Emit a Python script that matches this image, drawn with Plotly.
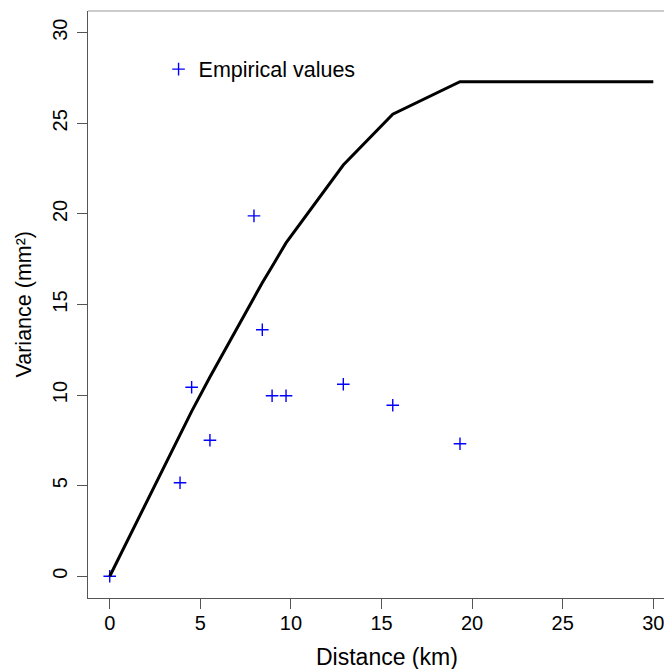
import plotly.graph_objects as go

# Empirical variogram values
emp_dist = [0, 3.88, 4.52, 5.53, 7.96, 8.42, 8.96, 9.73, 12.89, 15.62, 19.33]
emp_var = [0, 5.16, 10.43, 7.51, 19.89, 13.61, 9.96, 9.96, 10.6, 9.44, 7.31]

# Fitted model line
model_dist = [0, 3.88, 4.52, 5.53, 7.96, 8.42, 8.96, 9.73, 12.89, 15.62, 19.33, 30]
model_var = [0, 7.8, 9.1, 11.0, 15.4, 16.2, 17.1, 18.4, 22.7, 25.5, 27.3, 27.3]

tick_vals = [0, 5, 10, 15, 20, 25, 30]
tick_text = ["0", "5", "10", "15", "20", "25", "30"]

FONT = "Liberation Sans, Arial, Helvetica, sans-serif"

fig = go.Figure()
fig.add_trace(go.Scatter(
    x=emp_dist, y=emp_var, mode="markers", name="Empirical values",
    marker=dict(symbol="cross-thin", size=9, color="blue",
                line=dict(width=1.4, color="blue")),
    showlegend=True))
fig.add_trace(go.Scatter(
    x=model_dist, y=model_var, mode="lines",
    line=dict(color="black", width=3), showlegend=False))

axis_common = dict(
    showgrid=False, zeroline=False, showline=True, linecolor="#555555",
    linewidth=1.3, ticks="outside", ticklen=10, tickwidth=1.2,
    tickcolor="#555555", tickvals=tick_vals, ticktext=tick_text,
    ticklabeloverflow="allow",
    tickfont=dict(family=FONT, size=20, color="black"))

fig.update_xaxes(range=[-1.2, 30.59], **axis_common, ticklabelstandoff=-3)
fig.update_yaxes(range=[-1.2, 31.2], **axis_common, tickangle=-90,
                 ticklabelstandoff=2)

fig.update_layout(
    width=664, height=669,
    margin=dict(l=88, r=0, t=11, b=71),
    plot_bgcolor="white", paper_bgcolor="white",
    legend=dict(x=0.1225, y=0.901, xanchor="left", yanchor="middle",
                font=dict(family=FONT, size=21.5, color="black"),
                bgcolor="rgba(0,0,0,0)", borderwidth=0, itemwidth=30),
    shapes=[dict(type="line", xref="paper", yref="paper", x0=0, x1=1,
                 y0=1, y1=1, line=dict(color="#bbbbbb", width=1.3))],
    annotations=[
        dict(text="Distance (km)", xref="paper", yref="paper",
             x=(386.5 - 88) / 576, y=-(657 - 598) / 587,
             xanchor="center", yanchor="middle", showarrow=False,
             font=dict(family=FONT, size=23, color="black")),
        dict(text="Variance (mm²)", xref="paper", yref="paper",
             x=-(88 - 23) / 576, y=0.5, textangle=-90,
             xanchor="center", yanchor="middle", showarrow=False,
             font=dict(family=FONT, size=21.5, color="black")),
    ],
)

fig.write_html("out.html")
